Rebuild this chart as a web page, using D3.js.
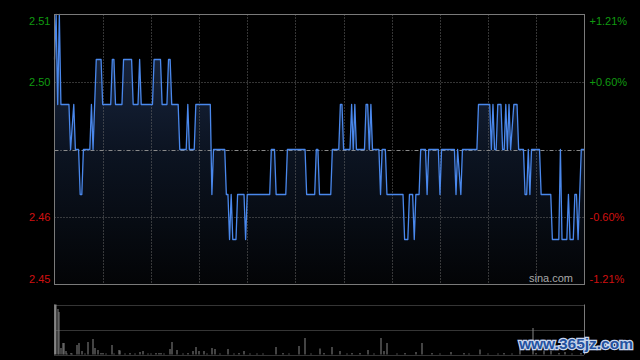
<!DOCTYPE html>
<html>
<head>
<meta charset="utf-8">
<script src="https://cdn.jsdelivr.net/npm/d3@7"></script>
<style>
  html, body { margin: 0; padding: 0; background: #000; }
  svg { display: block; }
  text { font-family: "Liberation Sans", Arial, sans-serif; }
</style>
</head>
<body>
<script>
// previous close and axis labels
var prevClose = 2.48;
var priceTicks = [2.51, 2.495, 2.465, 2.45];
var priceLabels = ["2.51", "2.50", "2.46", "2.45"];
var pctLabels = ["+1.21%", "+0.60%", "-0.60%", "-1.21%"];
var sessionMinutes = 330;
var gridMinutes = [30, 60, 90, 120, 150, 180, 210, 240, 270, 300];

// price change points [minute, price]
var prices = [
  [0,2.50],[1,2.51],[2,2.49],[3,2.51],[4,2.49],[9,2.49],[10,2.48],[12,2.49],[13,2.48],[15,2.48],
  [16,2.47],[17,2.47],[18,2.48],[22,2.48],[23,2.49],[24,2.48],[26,2.50],[29,2.50],[30,2.49],[35,2.49],
  [36,2.50],[37,2.50],[38,2.49],[42,2.49],[43,2.50],[48,2.50],[49,2.49],[52,2.49],[53,2.50],[54,2.49],
  [61,2.49],[62,2.50],[66,2.50],[67,2.49],[70,2.49],[71,2.50],[72,2.50],[73,2.49],[77,2.49],[78,2.48],
  [82,2.48],[83,2.49],[84,2.48],[87,2.48],[88,2.49],[97,2.49],[98,2.47],[99,2.48],[106,2.48],[107,2.47],
  [108,2.47],[109,2.46],[110,2.47],[111,2.46],[113,2.46],[114,2.47],[118,2.47],[119,2.46],[120,2.47],[134,2.47],
  [135,2.48],[137,2.48],[138,2.47],[144,2.47],[145,2.48],[156,2.48],[157,2.47],[162,2.47],[163,2.48],[164,2.48],
  [165,2.47],[172,2.47],[173,2.48],[177,2.48],[178,2.49],[179,2.49],[180,2.48],[184,2.48],[185,2.49],[186,2.48],
  [187,2.49],[188,2.48],[193,2.48],[194,2.49],[195,2.49],[196,2.48],[197,2.49],[198,2.48],[202,2.48],[203,2.47],
  [204,2.48],[206,2.48],[207,2.47],[217,2.47],[218,2.46],[220,2.46],[221,2.47],[223,2.47],[224,2.46],[225,2.47],
  [227,2.47],[228,2.48],[231,2.48],[232,2.47],[233,2.48],[239,2.48],[240,2.47],[241,2.48],[249,2.48],[250,2.47],
  [251,2.48],[253,2.47],[254,2.48],[263,2.48],[264,2.49],[271,2.49],[272,2.48],[273,2.49],[274,2.48],[275,2.48],
  [276,2.49],[278,2.49],[279,2.48],[280,2.48],[281,2.49],[282,2.48],[283,2.49],[284,2.48],[286,2.49],[288,2.49],
  [289,2.48],[292,2.48],[293,2.47],[294,2.47],[295,2.48],[296,2.47],[297,2.48],[302,2.48],[303,2.47],[309,2.47],
  [310,2.46],[314,2.46],[315,2.48],[316,2.46],[319,2.46],[320,2.47],[321,2.46],[323,2.46],[324,2.47],[325,2.47],
  [326,2.46],[328,2.48],[330,2.48]
];

// volume bars [minute, volume]
var volumes = [
  [0,100],[2,91],[3,85],[4,13],[5,23],[6,23],[7,7],[8,2],[10,3],[11,2],[14,19],[15,23],[17,7],[19,2],
  [21,25],[24,31],[25,13],[27,9],[29,3],[30,3],[32,2],[36,19],[37,2],[40,9],[41,8],[44,2],[47,3],[50,2],
  [53,5],[55,7],[58,2],[60,2],[63,3],[65,3],[66,3],[68,2],[72,11],[73,25],[76,9],[80,2],[83,3],[86,7],
  [88,15],[90,7],[93,7],[95,2],[98,13],[100,11],[103,2],[108,11],[112,2],[115,3],[118,7],[122,2],[126,2],
  [130,2],[138,15],[142,3],[146,2],[152,17],[156,33],[160,2],[165,12],[168,3],[173,15],[178,7],[182,2],
  [185,3],[190,3],[195,9],[199,2],[203,33],[205,7],[207,23],[213,2],[218,3],[225,5],[229,23],[235,3],
  [240,2],[247,5],[255,3],[258,2],[265,10],[270,2],[276,2],[280,3],[285,2],[290,20],[298,53],[300,3],
  [305,8],[309,7],[314,3],[318,5],[322,2],[328,3]
];

var W = 640, H = 360;
var plot = {left: 54.5, right: 584.5, top: 14.5, bottom: 284.5};
var vol = {top: 304.5, bottom: 354.5};

var svg = d3.select("body").append("svg")
  .attr("width", W)
  .attr("height", H)
  .style("background", "#000");

var x = d3.scaleLinear().domain([0, sessionMinutes]).range([plot.left, plot.right]);
var y = d3.scaleLinear().domain([2.45, 2.51]).range([plot.bottom, plot.top]);
var vy = d3.scaleLinear().domain([0, 100]).range([vol.bottom, vol.top]);

// fill gradient
var grad = svg.append("defs").append("linearGradient")
  .attr("id", "fillGrad")
  .attr("gradientUnits", "userSpaceOnUse")
  .attr("x1", 0).attr("y1", plot.top)
  .attr("x2", 0).attr("y2", plot.bottom);
grad.append("stop").attr("offset", "0%").attr("stop-color", "#1c2b48");
grad.append("stop").attr("offset", "50%").attr("stop-color", "#0c1422");
grad.append("stop").attr("offset", "100%").attr("stop-color", "#030406");

var area = d3.area()
  .x(function(d) { return x(d[0]); })
  .y0(plot.bottom)
  .y1(function(d) { return y(d[1]); });

var line = d3.line()
  .x(function(d) { return x(d[0]); })
  .y(function(d) { return y(d[1]); });

svg.append("path")
  .datum(prices)
  .attr("fill", "url(#fillGrad)")
  .attr("d", area);

// vertical grid
svg.append("g")
  .selectAll("line")
  .data(gridMinutes)
  .join("line")
  .attr("x1", function(d) { return Math.round(x(d)) + 0.5; })
  .attr("x2", function(d) { return Math.round(x(d)) + 0.5; })
  .attr("y1", plot.top)
  .attr("y2", plot.bottom)
  .attr("stroke", "#6a6a6a")
  .attr("stroke-dasharray", "1,2");

// horizontal grid
svg.append("g")
  .selectAll("line")
  .data([priceTicks[1], priceTicks[2]])
  .join("line")
  .attr("x1", plot.left)
  .attr("x2", plot.right)
  .attr("y1", function(d) { return Math.round(y(d)) + 0.5; })
  .attr("y2", function(d) { return Math.round(y(d)) + 0.5; })
  .attr("stroke", "#6a6a6a")
  .attr("stroke-dasharray", "1,2");

// previous close line
svg.append("line")
  .attr("x1", plot.left)
  .attr("x2", plot.right)
  .attr("y1", Math.round(y(prevClose)) + 0.5)
  .attr("y2", Math.round(y(prevClose)) + 0.5)
  .attr("stroke", "#8a8a8a")
  .attr("stroke-dasharray", "4,2,1,2");

svg.append("path")
  .datum(prices)
  .attr("fill", "none")
  .attr("stroke", "#4a88ec")
  .attr("stroke-width", 1.3)
  .attr("stroke-linejoin", "round")
  .attr("d", line);

// plot frame
svg.append("rect")
  .attr("x", plot.left)
  .attr("y", plot.top)
  .attr("width", plot.right - plot.left)
  .attr("height", plot.bottom - plot.top)
  .attr("fill", "none")
  .attr("stroke", "#7a7a7a");

// left axis
var colorOf = function(i) { return i < 2 ? "#109a10" : "#d01010"; };
var shift = function(i) { return i === 0 ? 6 : (i === 3 ? -6 : 0); };

var leftAxis = svg.append("g")
  .attr("transform", "translate(" + plot.left + ",0)")
  .call(d3.axisLeft(y).tickValues(priceTicks).tickSize(0).tickPadding(4)
    .tickFormat(function(d, i) { return priceLabels[i]; }));
leftAxis.select(".domain").remove();
leftAxis.selectAll("text")
  .attr("font-size", 11)
  .attr("font-family", "Liberation Sans, Arial, sans-serif")
  .attr("fill", function(d, i) { return colorOf(i); })
  .attr("transform", function(d, i) { return "translate(0," + shift(i) + ")"; });

var rightAxis = svg.append("g")
  .attr("transform", "translate(" + plot.right + ",0)")
  .call(d3.axisRight(y).tickValues(priceTicks).tickSize(0).tickPadding(5)
    .tickFormat(function(d, i) { return pctLabels[i]; }));
rightAxis.select(".domain").remove();
rightAxis.selectAll("text")
  .attr("font-size", 11)
  .attr("font-family", "Liberation Sans, Arial, sans-serif")
  .attr("fill", function(d, i) { return colorOf(i); })
  .attr("transform", function(d, i) { return "translate(0," + shift(i) + ")"; });

svg.append("text")
  .attr("x", 573)
  .attr("y", 282)
  .attr("text-anchor", "end")
  .attr("font-size", 11)
  .attr("fill", "#a8a8a8")
  .text("sina.com");

// volume panel
svg.append("g")
  .selectAll("line")
  .data([vol.top, (vol.top + vol.bottom) / 2, vol.bottom])
  .join("line")
  .attr("x1", plot.left)
  .attr("x2", plot.right)
  .attr("y1", function(d) { return Math.round(d) + 0.5; })
  .attr("y2", function(d) { return Math.round(d) + 0.5; })
  .attr("stroke", "#6a6a6a")
  .attr("stroke-dasharray", "1,1");

svg.append("g")
  .selectAll("rect")
  .data(volumes)
  .join("rect")
  .attr("x", function(d) { return Math.round(x(d[0])) - 0.5; })
  .attr("width", function(d) { return d[0] === 0 ? 2 : 1; })
  .attr("y", function(d) { return vy(d[1]); })
  .attr("height", function(d) { return vol.bottom - vy(d[1]); })
  .attr("fill", "#858585");

svg.append("g")
  .selectAll("line")
  .data([plot.left, plot.right])
  .join("line")
  .attr("x1", function(d) { return d; })
  .attr("x2", function(d) { return d; })
  .attr("y1", vol.top)
  .attr("y2", vol.bottom)
  .attr("stroke", "#7a7a7a");

// watermark of the source page
svg.append("text")
  .attr("x", 576)
  .attr("y", 349)
  .attr("text-anchor", "middle")
  .attr("font-size", 15.5)
  .attr("font-weight", "bold")
  .attr("font-family", "DejaVu Sans, sans-serif")
  .attr("fill", "#2352a0")
  .attr("stroke", "#c8d6ee")
  .attr("stroke-width", 2.5)
  .attr("paint-order", "stroke")
  .text("www.365jz.com");
</script>
</body>
</html>
